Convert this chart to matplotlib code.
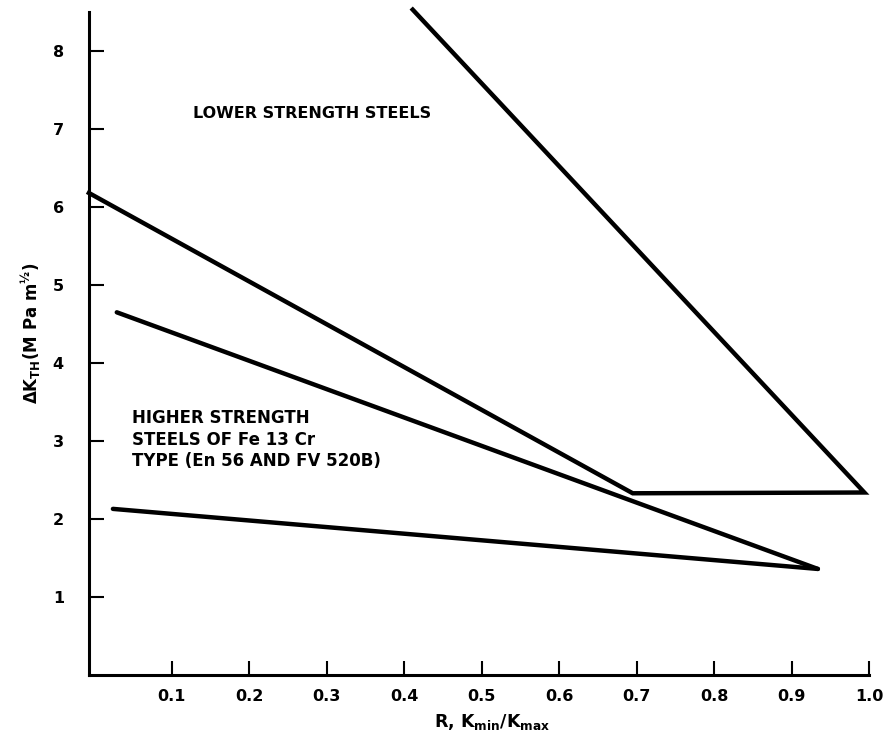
import matplotlib
matplotlib.use("Agg")
import matplotlib.pyplot as plt

plt.rcParams['font.family'] = ['DejaVu Sans']
plt.rcParams['mathtext.fontset'] = 'dejavusans'
plt.rcParams['mathtext.default'] = 'bf'

# Lower strength steels envelope (upper triangle)
lower_x = [0.411, 0.994, 0.695, -0.007]
lower_y = [8.53, 2.34, 2.33, 6.18]
# Higher strength steels band
high_upper_x = [0.029, 0.934]
high_upper_y = [4.65, 1.36]
high_lower_x = [0.024, 0.934]
high_lower_y = [2.13, 1.36]

xticks = [0.1, 0.2, 0.3, 0.4, 0.5, 0.6, 0.7, 0.8, 0.9, 1.0]
xticklabels = ['0.1', '0.2', '0.3', '0.4', '0.5', '0.6', '0.7', '0.8', '0.9', '1.0']
yticks = [1, 2, 3, 4, 5, 6, 7, 8]

fig = plt.figure(figsize=(8.89, 7.4), dpi=100)
ax = fig.add_axes([0.1, 0.0878, 0.8775, 0.896])

lw = 3.2
ax.plot(lower_x, lower_y, color='black', lw=lw, solid_joinstyle='miter', clip_on=False)
ax.plot(high_upper_x, high_upper_y, color='black', lw=lw, clip_on=False, solid_capstyle='round')
ax.plot(high_lower_x, high_lower_y, color='black', lw=lw, clip_on=False, solid_capstyle='round')

ax.set_xlim(-0.007, 1.0)
ax.set_ylim(0, 8.5)
ax.spines['top'].set_visible(False)
ax.spines['right'].set_visible(False)
for s in ['left', 'bottom']:
    ax.spines[s].set_linewidth(2.2)

ax.set_xticks(xticks)
ax.set_xticklabels(xticklabels)
ax.set_yticks(yticks)
ax.tick_params(axis='x', direction='in', length=10, width=1.5, pad=10, labelsize=11.5)
ax.tick_params(axis='y', direction='in', length=11, width=1.5, pad=18, labelsize=11.5)
for lab in ax.get_xticklabels() + ax.get_yticklabels():
    lab.set_fontweight('bold')

ax.set_xlabel(r'R, $K_{min}/K_{max}$', fontsize=12.5, fontweight='bold')
ax.xaxis.set_label_coords(0.517, -0.056)
ax.set_ylabel(r'$\Delta K_{TH}$(M Pa m$^{½}$)', fontsize=12, fontweight='bold')
ax.yaxis.set_label_coords(-0.059, 0.515)

ax.text(0.127, 7.2, 'LOWER STRENGTH STEELS', fontsize=11.5, fontweight='bold', va='center', ha='left')
ax.text(0.048, 3.41, 'HIGHER STRENGTH\nSTEELS OF Fe 13 Cr\nTYPE (En 56 AND FV 520B)',
        fontsize=12, fontweight='bold', va='top', ha='left', linespacing=1.25)

fig.savefig('out.png', dpi=100)
